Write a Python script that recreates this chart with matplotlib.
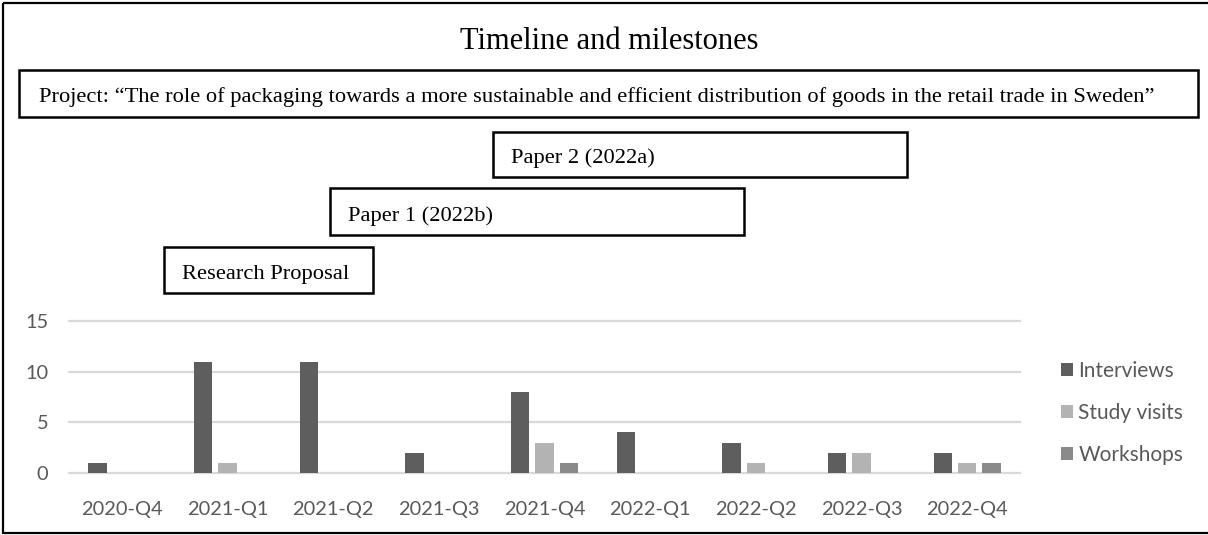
import numpy as np
import matplotlib.pyplot as plt
from matplotlib.patches import Rectangle

quarters = ['2020-Q4', '2021-Q1', '2021-Q2', '2021-Q3', '2021-Q4',
            '2022-Q1', '2022-Q2', '2022-Q3', '2022-Q4']
interviews = [1, 11, 11, 2, 8, 4, 3, 2, 2]
study_visits = [0, 1, 0, 0, 3, 0, 1, 2, 1]
workshops = [0, 0, 0, 0, 1, 0, 0, 0, 1]

project_text = ('Project: \u201cThe role of packaging towards a more sustainable and efficient '
                'distribution of goods in the retail trade in Sweden\u201d')
milestones = ['Research Proposal', 'Paper 1 (2022b)', 'Paper 2 (2022a)']

W, H = 1208, 535
fig = plt.figure(figsize=(W / 100, H / 100), dpi=100)

serif = ['Liberation Serif', 'DejaVu Serif']
sans = ['Lato', 'DejaVu Sans']
txt_grey = '#595959'

# bar chart
ax = fig.add_axes([69 / W, 1 - 473 / H, (1020 - 69) / W, (473 - 321) / H])
x = np.arange(len(quarters))
w, step = 0.175, 0.23
series = [('Interviews', interviews, '#5e5e5e'),
          ('Study visits', study_visits, '#b3b3b3'),
          ('Workshops', workshops, '#8a8a8a')]
for i, (name, vals, col) in enumerate(series):
    ax.bar(x + (i - 1) * step, vals, w, color=col, label=name, zorder=3)

ax.set_xlim(-0.5, len(quarters) - 0.5)
ax.set_ylim(0, 15)
ax.set_yticks([0, 5, 10, 15])
ax.set_xticks(x)
ax.set_xticklabels(quarters)
for y in [0, 5, 10, 15]:
    ax.axhline(y, color='#d9d9d9', lw=1.6, zorder=1, clip_on=False)
for s in ax.spines.values():
    s.set_visible(False)
ax.tick_params(length=0, labelsize=14.4, labelcolor=txt_grey)
ax.tick_params(axis='y', pad=15)
ax.tick_params(axis='x', pad=20)
for lab in ax.get_xticklabels() + ax.get_yticklabels():
    lab.set_family(sans)

leg = fig.legend(loc='center left', bbox_to_anchor=(1061 / W, 1 - 413 / H),
                 frameon=False, prop={'family': sans, 'size': 15},
                 handlelength=0.58, handleheight=0.58, handletextpad=0.25,
                 labelspacing=1.07, borderpad=0, borderaxespad=0)
for t in leg.get_texts():
    t.set_color(txt_grey)

# milestone boxes on a pixel-scaled overlay
ov = fig.add_axes([0, 0, 1, 1], zorder=5)
ov.set_xlim(0, W)
ov.set_ylim(H, 0)
ov.axis('off')
ov.patch.set_alpha(0)

ov.add_patch(Rectangle((3, 3), W + 5, 530, fill=False, lw=1.6, ec='black', clip_on=False))
ov.text(609, 49, 'Timeline and milestones', family=serif, fontsize=22,
        ha='center', va='baseline')

ov.add_patch(Rectangle((19, 70), 1179, 47, fill=False, lw=1.8, ec='black'))
ov.text(39, 102, project_text, family=serif, fontsize=16.2, ha='left', va='baseline')

boxes = [(164, 247, 209, 46), (330, 188, 414, 47), (493, 132, 414, 45)]
for label, (bx, by, bw, bh) in zip(milestones, boxes):
    ov.add_patch(Rectangle((bx, by), bw, bh, fill=False, lw=1.8, ec='black'))
    ov.text(bx + 18, by + bh - 14, label, family=serif, fontsize=16.2,
            ha='left', va='baseline')

fig.savefig('out.png', dpi=100, facecolor='white')
